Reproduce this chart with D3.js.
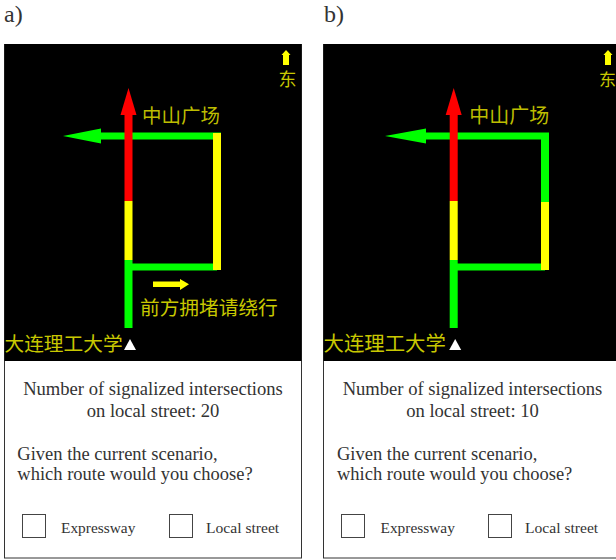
<!DOCTYPE html>
<html><head><meta charset="utf-8">
<script src="https://cdn.jsdelivr.net/npm/d3@7/dist/d3.min.js"></script>
<style>html,body{margin:0;padding:0;background:#fff;overflow:hidden}</style>
</head><body><svg id="c" width="616" height="560"></svg>
<script>
const panelLabels = ["a)", "b)"];
const signalCounts = [20, 10];
const mainRoad = [["#00ff00", 0, 68], ["#ffff00", 68, 127], ["#ff0000", 127, 240]];
const bypassA = [["#ffff00", 0, 137]];
const bypassB = [["#ffff00", 0, 68], ["#00ff00", 68, 137]];
const bypassSegments = [bypassA, bypassB];
const placeTop = "中山广场";
const placeBottom = "大连理工大学";
const jamNotice = "前方拥堵请绕行";
const eastLabel = "东";
const routes = ["Expressway", "Local street"];
const infoLine = "Number of signalized intersections";
const infoLine2 = "on local street: ";
const askLines = ["Given the current scenario,", "which route would you choose?"];

const svg = d3.select("#c");
const defs = svg.append("defs");
defs.append("filter").attr("id","soft").append("feGaussianBlur").attr("stdDeviation",0.35);
const serif = "'Liberation Serif', serif";
const cjk = "'Noto Sans CJK SC', sans-serif";

const panels = [
  {x0:4.5, w:297, lx:4, road:128.5, right:217, arrowTip:63, arrowBase:101, tx:153, eastA:286, east:287.5, eastSize:18, textC:153, ask:17.3, box1:22, lab1:61, box2:169, lab2:206, topSize:19.5, botSize:19.7, topDx:13.5},
  {x0:323.5, w:300, lx:324, road:453.7, right:545, arrowTip:385, arrowBase:426, tx:null, eastA:608, east:607.5, eastSize:17, textC:472.5, ask:337, box1:341, lab1:380.5, box2:488, lab2:525, topSize:20, botSize:20.4, topDx:15.5}
];
// vertical map scale: distance along road (from bottom end) to page y
const y = d3.scaleLinear().domain([0, 240]).range([328, 88]);

panels.forEach((p, i) => {
  const g = svg.append("g");
  g.append("text").text(panelLabels[i]).attr("x", p.lx).attr("y", 22)
    .attr("font-family", serif).attr("font-size", 24).attr("fill", "#333");
  g.append("rect").attr("x", p.x0).attr("y", 44.5).attr("width", p.w).attr("height", 513.5)
    .attr("fill", "#fff").attr("stroke", "#333").attr("stroke-width", 1);
  g.append("rect").attr("x", p.x0).attr("y", 44).attr("width", p.w).attr("height", 317).attr("fill", "#000");

  const m = g.append("g").attr("filter", "url(#soft)");
  const hw = 4;
  const yTop = 136, yLow = 267;
  m.append("rect").attr("x", p.arrowBase).attr("y", yTop-3.5).attr("width", p.right+hw-p.arrowBase).attr("height", 7).attr("fill", "#00ff00");
  m.append("path").attr("d", d3.line()([[p.arrowTip,yTop],[p.arrowBase,yTop-7.5],[p.arrowBase,yTop+7.5]])+"Z").attr("fill", "#00ff00");
  m.append("rect").attr("x", p.road).attr("y", yLow-3.5).attr("width", p.right-p.road).attr("height", 7).attr("fill", "#00ff00");
  const by = d3.scaleLinear().domain([0, 137]).range([270, 133]);
  bypassSegments[i].forEach(s => {
    m.append("rect").attr("x", p.right-hw).attr("y", by(s[2])).attr("width", hw*2).attr("height", by(s[1])-by(s[2])).attr("fill", s[0]);
  });
  mainRoad.forEach(s => {
    const top = s[2] === 240 ? y(213) : y(s[2]);
    m.append("rect").attr("x", p.road-hw).attr("y", top).attr("width", hw*2).attr("height", y(s[1])-top).attr("fill", s[0]);
  });
  m.append("path").attr("d", d3.line()([[p.road,y(240)],[p.road-8,y(213)],[p.road+8,y(213)]])+"Z").attr("fill", "#ff0000");

  // east arrow
  m.append("rect").attr("x", p.eastA-3).attr("y", 54).attr("width", 6).attr("height", 11).attr("fill", "#ffff00");
  m.append("path").attr("d", d3.line()([[p.eastA,50],[p.eastA-4.5,55],[p.eastA+4.5,55]])+"Z").attr("fill", "#ffff00");
  // start triangle
  const tri = p.road+1.5;
  m.append("path").attr("d", d3.line()([[tri,339],[tri-6,350],[tri+6,350]])+"Z").attr("fill", "#fff");
  // jam notice arrow
  if (p.tx !== null) {
    m.append("rect").attr("x", p.tx).attr("y", 281.5).attr("width", 27).attr("height", 5.5).attr("fill", "#ffff00");
    m.append("path").attr("d", d3.line()([[p.tx+36,284.3],[p.tx+27,279],[p.tx+27,290]])+"Z").attr("fill", "#ffff00");
    g.append("text").text(jamNotice).attr("x", p.road+11.5).attr("y", 314.5)
      .attr("font-family", cjk).attr("font-size", 19.7).attr("fill", "#c8c800");
  }
  g.append("text").text(placeTop).attr("x", p.road+p.topDx).attr("y", 122.5)
    .attr("font-family", cjk).attr("font-size", p.topSize).attr("fill", "#bdbd00");
  g.append("text").text(eastLabel).attr("x", p.east).attr("y", 86).attr("text-anchor", "middle")
    .attr("font-family", cjk).attr("font-size", p.eastSize).attr("fill", "#c8c800");
  g.append("text").text(placeBottom).attr("x", p.x0).attr("y", 351)
    .attr("font-family", cjk).attr("font-size", p.botSize).attr("fill", "#c8c800");

  const t = (s, x, yy, size, anchor) => g.append("text").text(s).attr("x", x).attr("y", yy)
    .attr("font-family", serif).attr("font-size", size).attr("fill", "#333").attr("text-anchor", anchor || "start");
  t(infoLine, p.textC, 395, 18.6, "middle");
  t(infoLine2 + signalCounts[i], p.textC, 417, 18.6, "middle");
  t(askLines[0], p.ask, 459.5, 18.5);
  t(askLines[1], p.ask, 480, 18.5);
  [[p.box1,p.lab1],[p.box2,p.lab2]].forEach((b, k) => {
    g.append("rect").attr("x", b[0]+0.5).attr("y", 514.5).attr("width", 23).attr("height", 23)
      .attr("fill", "#fff").attr("stroke", "#444").attr("stroke-width", 1);
    t(routes[k], b[1], 533, k ? 15.6 : 15.4);
  });
});
</script></body></html>
